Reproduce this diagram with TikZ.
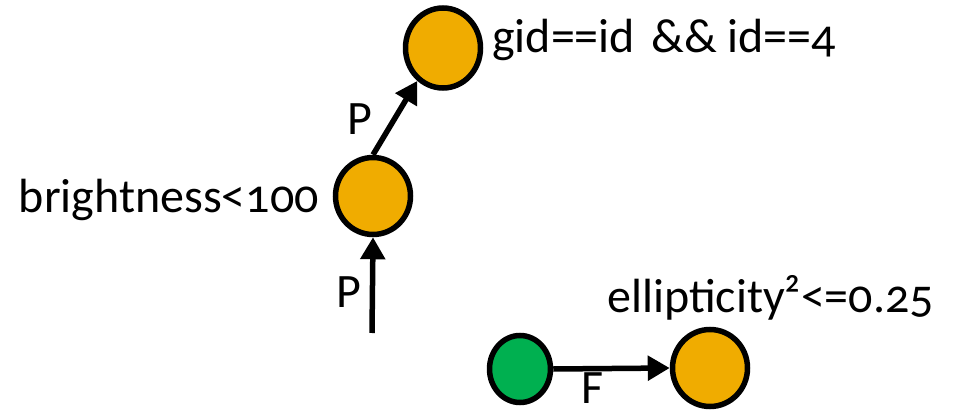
\documentclass[tikz,border=0pt]{standalone}
\usepackage{fontspec}
\setmainfont{Carlito}[Numbers=OldStyle]
\usetikzlibrary{shapes.geometric,arrows.meta}
\definecolor{nodeorange}{RGB}{240,172,0}
\definecolor{nodegreen}{RGB}{0,176,80}
\begin{document}
\begin{tikzpicture}[x=1pt,y=-1pt,
  cond/.style={ellipse,draw=black,line width=5.5pt,fill=nodeorange,inner sep=0pt,minimum width=75pt,minimum height=77pt},
  start/.style={ellipse,draw=black,line width=5.5pt,fill=nodegreen,inner sep=0pt,minimum width=61pt,minimum height=67pt},
  lbl/.style={inner sep=0pt,font=\fontsize{48}{54}\selectfont},
  conn/.style={line width=5.5pt,-{Triangle[length=22pt,width=24pt]}}]
\useasboundingbox (0,0) rectangle (959,412);
\node[cond,minimum height=80pt] (top) at (443,48) {};
\node[cond] (mid) at (373,196) {};
\node[start] (green) at (520,369) {};
\node[cond] (bot) at (710,368) {};
\coordinate (src) at (372,333);
\node[lbl,anchor=base west] (ltop) at (492,53) {gid==id\hspace{0.34em}\&\& id==4};
\node[lbl,anchor=base east] (lmid) at (319,212) {brightness<100};
\node[lbl,anchor=base west] (lbot) at (607,312) {ellipticity²<=0.25};
\draw[conn] (mid.north) -- (top.232);
\draw[conn] (src) -- (mid.south);
\draw[conn] (green.east) -- (bot.west);
\node[lbl,anchor=base west] (p1) at (347,135) {P};
\node[lbl,anchor=base west] (p2) at (336,307) {P};
\node[lbl,anchor=base west] (f1) at (581,403) {F};
\end{tikzpicture}
\end{document}
